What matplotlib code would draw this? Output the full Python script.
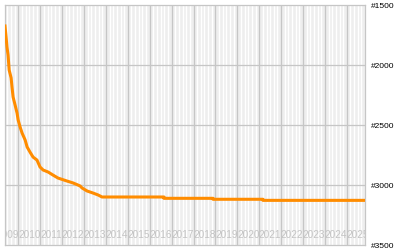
"""Rank history chart: orange rank line on a light striped grid."""

import matplotlib
matplotlib.use("Agg")

import matplotlib.pyplot as plt
from matplotlib import transforms

plt.rcParams["font.family"] = ["Liberation Sans", "DejaVu Sans"]

# ── data (decimal years, rank) ───────────────────────────
years = [
    2009.39, 2009.44, 2009.48, 2009.53, 2009.58, 2009.67, 2009.71, 2009.76,
    2009.85, 2009.94, 2009.99, 2010.08, 2010.17, 2010.31, 2010.40, 2010.53,
    2010.67, 2010.85, 2010.99, 2011.13, 2011.36, 2011.58, 2011.81, 2012.22,
    2012.50, 2012.82, 2012.91, 2013.14, 2013.41, 2013.64, 2013.82, 2014.10,
    2016.65, 2016.65, 2018.89, 2018.89, 2021.17, 2021.17, 2025.87,
]
ranks = [
    1675, 1767, 1850, 1917, 2042, 2108, 2183, 2267,
    2333, 2400, 2458, 2517, 2567, 2625, 2683, 2725,
    2767, 2792, 2850, 2875, 2892, 2917, 2942, 2967,
    2983, 3008, 3025, 3050, 3067, 3083, 3100, 3100,
    3100, 3111, 3111, 3119, 3119, 3128, 3128,
]
year_labels = list(range(2009, 2026))
rank_ticks = [1500, 2000, 2500, 3000, 3500]

X_MIN, X_MAX = 2009.39, 2025.83
LINE_COLOR = "#ff8c00"
GRID_COLOR = "#c6c6c6"
BG_COLOR = "#eeeeee"

fig = plt.figure(figsize=(4, 2.5), dpi=100)
ax = fig.add_axes([5 / 400, 5 / 250, 360 / 400, 240 / 250])
ax.set_facecolor(BG_COLOR)

# 细白竖线（每两个月）
for y in range(2009, 2026):
    for m in (2, 4, 6, 8, 10):
        ax.axvline(y + m / 12, color="white", lw=1.0, zorder=0)

for y in range(2010, 2026):
    ax.axvline(y, color=GRID_COLOR, lw=0.9, zorder=1)
for r in rank_ticks[1:-1]:
    ax.axhline(r, color=GRID_COLOR, lw=0.9, zorder=1)

# year labels inside the plot, clipped at the edges
trans = transforms.blended_transform_factory(ax.transData, ax.transAxes)
for y in year_labels:
    ax.text(y + 0.5, 0.042, str(y), transform=trans, ha="center", va="center",
            fontsize=7.2, color="#c4c4c4", clip_on=True, zorder=2)

ax.plot(years, ranks, color=LINE_COLOR, lw=2.2, zorder=3)

ax.set_xlim(X_MIN, X_MAX)
ax.set_ylim(3500, 1500)
ax.set_xticks([])
ax.yaxis.tick_right()
ax.set_yticks(rank_ticks)
ax.set_yticklabels([f"#{r}" for r in rank_ticks])
ax.tick_params(axis="y", length=0, pad=4, labelsize=6, labelcolor="black")
for s in ax.spines.values():
    s.set_color(GRID_COLOR)
    s.set_linewidth(0.9)

fig.savefig("out.png", dpi=100)
